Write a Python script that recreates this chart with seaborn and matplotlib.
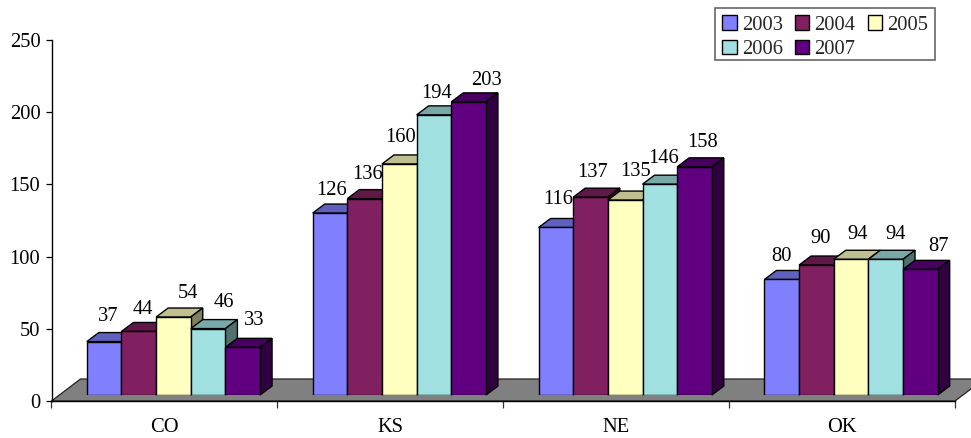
import matplotlib
matplotlib.use("Agg")
import matplotlib.pyplot as plt
import matplotlib.colors as mcolors
from matplotlib.patches import Polygon, Rectangle
import pandas as pd
import seaborn as sns

states = ["CO", "KS", "NE", "OK"]
years = ["2003", "2004", "2005", "2006", "2007"]
values_2003 = [37, 126, 116, 80]
values_2004 = [44, 136, 137, 90]
values_2005 = [54, 160, 135, 94]
values_2006 = [46, 194, 146, 94]
values_2007 = [33, 203, 158, 87]
series = [values_2003, values_2004, values_2005, values_2006, values_2007]
year_colors = ["#8080FF", "#802060", "#FFFFC0", "#A0E0E0", "#600080"]
y_ticks = [0, 50, 100, 150, 200, 250]

# Hand-placed value labels: pixel offsets from each bar's top centre, per year then state
label_dx = [[4, 1.5, 2, 0], [4.5, 3, 2, 4], [15, 1, 10, 7], [16, 3, 4, 10], [11, 18, 8, 18]]
label_dy = [[25, 23, 28, 23], [22, 24, 25, 27], [24, 26, 29, 25], [26, 21, 26, 25], [27, 21, 24, 23]]

W, H = 971, 438
FONT_SIZE = 14.8
sns.set_theme(style="white")
plt.rcParams["font.family"] = ["Liberation Serif", "DejaVu Serif"]
plt.rcParams["font.size"] = FONT_SIZE

fig = plt.figure(figsize=(W / 100, H / 100), dpi=100)
fig.patch.set_facecolor("white")

# Axis frame of the pseudo-3D chart
left, right, bottom, top = 51.5, 955.0, 401.0, 40.0
ax = fig.add_axes([left / W, 1 - bottom / H, (right - left) / W, (bottom - top) / H])
ax.set_xlim(-0.5, 3.5)
ax.set_ylim(0, 250)
ax.set_facecolor("none")
for name in ("top", "right"):
    ax.spines[name].set_visible(False)
for name in ("left", "bottom"):
    ax.spines[name].set_color("black")
    ax.spines[name].set_linewidth(1.0)
ax.set_yticks(y_ticks)
ax.set_xticks([-0.5, 0.5, 1.5, 2.5, 3.5])
ax.set_xticklabels([])
ax.set_xticks(range(len(states)), states, minor=True)
ax.tick_params(axis="y", left=True, length=4, width=0.9, color="black", pad=4, labelsize=FONT_SIZE, labelcolor="black")
ax.tick_params(axis="x", which="major", bottom=True, length=5, width=0.9, color="#333333")
ax.tick_params(axis="x", which="minor", bottom=False, length=0, pad=12, labelsize=FONT_SIZE, labelcolor="black")

px_x = (right - left) / 4.0       # pixels per category
px_y = (bottom - top) / 250.0     # pixels per value unit

# Grey floor receding behind the front axis line
floor_dx, floor_dy = 29 / px_x, 22 / px_y
ax.add_patch(Polygon(
    [(-0.5, 0), (3.5, 0), (3.5 + floor_dx, floor_dy), (-0.5 + floor_dx, floor_dy)],
    closed=True, facecolor="#808080", edgecolor="#222222", linewidth=0.9,
    clip_on=False, zorder=1))

# Bars live in a second transparent axes nudged onto the floor
shift_x, shift_y = 9.0, 6.0
ax_bars = fig.add_axes([(left + shift_x) / W, 1 - (bottom - shift_y) / H,
                        (right - left) / W, (bottom - top) / H], sharex=None)
ax_bars.set_facecolor("none")
frame = pd.DataFrame({
    "state": [s for _ in years for s in states],
    "year": [y for y in years for _ in states],
    "value": [v for values in series for v in values],
})
sns.barplot(data=frame, x="state", y="value", hue="year", order=states, hue_order=years,
            palette=year_colors, saturation=1, width=0.767, gap=0, errorbar=None,
            edgecolor="black", linewidth=1.0, ax=ax_bars)
ax_bars.set_xlim(-0.5, 3.5)
ax_bars.set_ylim(0, 250)
ax_bars.axis("off")

# Extrude every bar: top and side faces in darker shades of the front colour
depth_x, depth_y = 12 / px_x, 9 / px_y
for i, container in enumerate(ax_bars.containers):
    base = mcolors.to_rgb(year_colors[i])
    top_col = tuple(c * 0.75 for c in base)
    side_col = tuple(c * 0.5 for c in base)
    for j, bar in enumerate(container):
        x0, w, h = bar.get_x(), bar.get_width(), bar.get_height()
        z = 3 + i
        bar.set_zorder(z + 0.2)
        ax_bars.add_patch(Polygon(
            [(x0, h), (x0 + w, h), (x0 + w + depth_x, h + depth_y), (x0 + depth_x, h + depth_y)],
            closed=True, facecolor=top_col, edgecolor="black", linewidth=1.0, clip_on=False, zorder=z))
        ax_bars.add_patch(Polygon(
            [(x0 + w, 0), (x0 + w + depth_x, depth_y), (x0 + w + depth_x, h + depth_y), (x0 + w, h)],
            closed=True, facecolor=side_col, edgecolor="black", linewidth=1.0, clip_on=False, zorder=z))
        ax_bars.annotate(str(series[i][j]), xy=(x0 + w / 2, h),
                         xytext=(label_dx[i][j], label_dy[i][j]), textcoords="offset pixels",
                         ha="center", va="center", fontsize=FONT_SIZE, color="black",
                         zorder=20, annotation_clip=False)

# Legend box, then its entries filled row by row across three columns
ax.set_zorder(0)
ax_bars.set_zorder(2)
fig.add_artist(Rectangle((715 / W, 1 - 60 / H), 220 / W, 52 / H, transform=fig.transFigure,
                         facecolor="white", edgecolor="#666666", linewidth=1.2, zorder=1))
handles, labels = ax_bars.get_legend_handles_labels()
order = [0, 3, 1, 4, 2]
leg = ax_bars.legend([handles[k] for k in order], [labels[k] for k in order],
                     ncol=3, loc="upper left",
                     bbox_to_anchor=(716 / W, 1 - 9 / H), bbox_transform=fig.transFigure,
                     frameon=False, fontsize=FONT_SIZE, handlelength=0.7, handleheight=0.7,
                     handletextpad=0.25, columnspacing=0.6, labelspacing=0.26,
                     borderpad=0.3, borderaxespad=0)
leg.set_zorder(30)

fig.savefig("out.png", dpi=100, facecolor="white")
